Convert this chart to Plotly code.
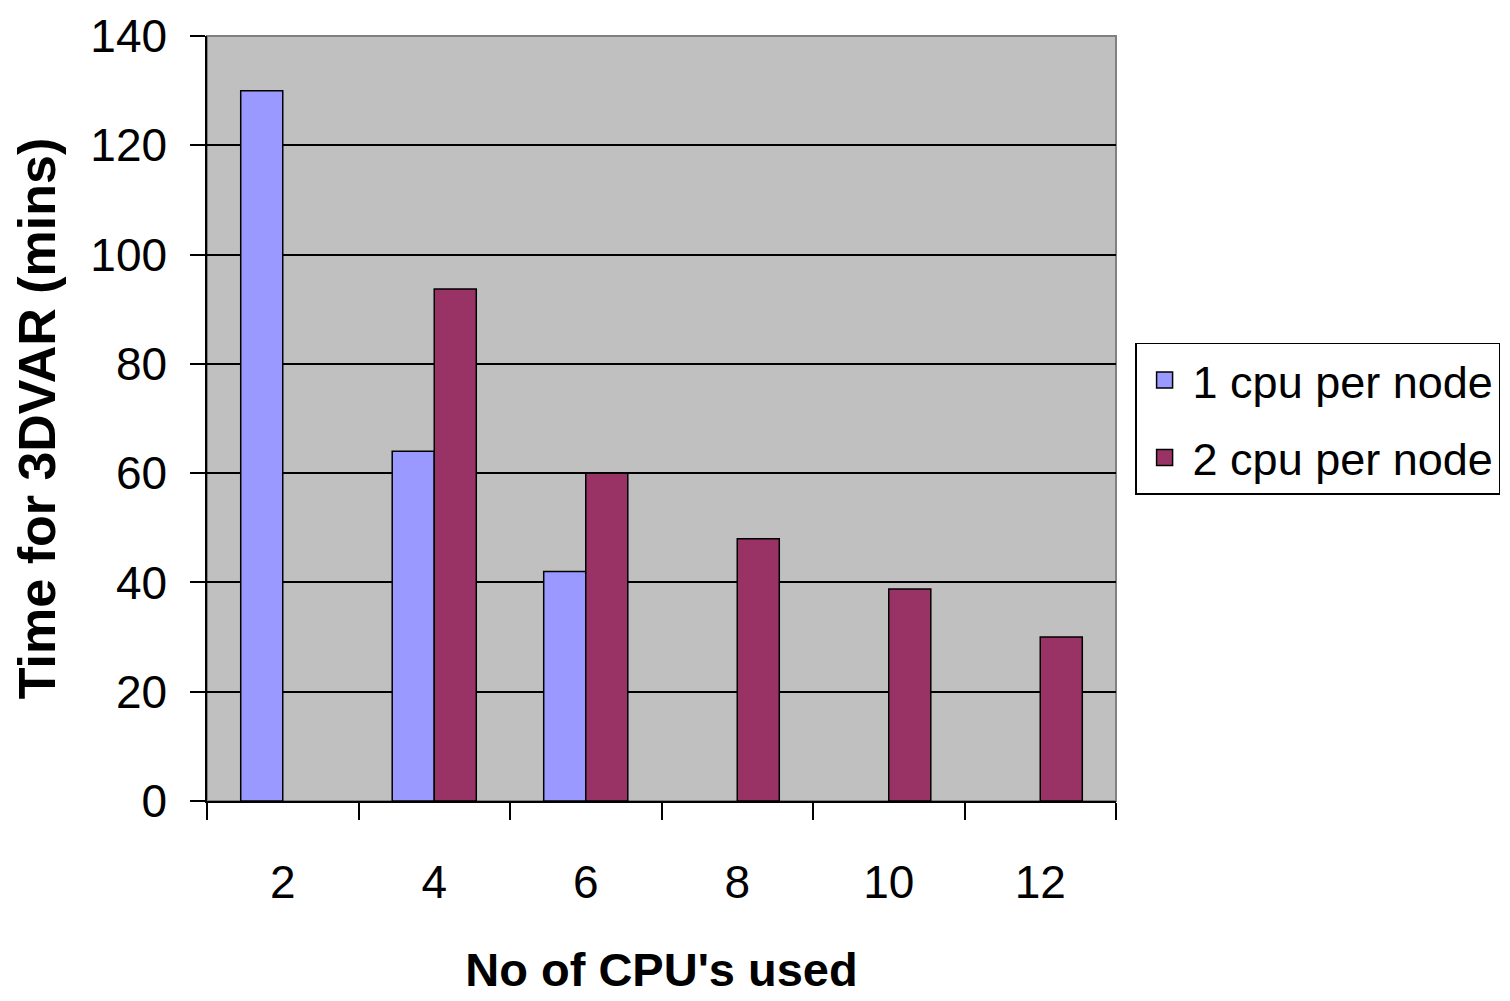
import plotly.graph_objects as go

categories = ["2", "4", "6", "8", "10", "12"]
one_cpu = [130, 64, 42, None, None, None]
two_cpu = [None, 93.7, 60, 48, 38.8, 30]
y_ticks = [0, 20, 40, 60, 80, 100, 120, 140]

series_names = ["1 cpu per node", "2 cpu per node"]
colors = ["#9999FF", "#993366"]

TICKFONT = dict(family="Liberation Sans, Arial", size=46, color="black")
XTITLEFONT = dict(family="Liberation Sans, Arial", size=47, color="black", weight="bold")
YTITLEFONT = dict(family="Liberation Sans, Arial", size=52, color="black", weight="bold")

fig = go.Figure()
for i, (name, vals, col) in enumerate(zip(series_names, [one_cpu, two_cpu], colors)):
    fig.add_trace(go.Bar(
        x=categories, y=vals, name=name,
        marker=dict(color=col, line=dict(color="black", width=1.5)),
        showlegend=False,
    ))
    fig.add_trace(go.Scatter(
        x=[None], y=[None], mode="markers", name=name, legendgroup=f"g{i}",
        marker=dict(symbol="square", size=30, color=col, line=dict(color="black", width=1.5)),
    ))

fig.update_layout(
    width=1510, height=1001,
    margin=dict(l=199, r=402, t=28, b=208, autoexpand=False),
    paper_bgcolor="white",
    plot_bgcolor="#C0C0C0",
    barmode="group",
    bargap=0.445,
    bargroupgap=0,
    showlegend=True,
    legend=dict(
        x=1.021, y=0.599, xanchor="left", yanchor="top",
        bgcolor="white", bordercolor="black", borderwidth=1.5,
        font=dict(family="Liberation Sans, Arial", size=45, color="black"),
        itemsizing="trace", tracegroupgap=16, itemwidth=46,
    ),
    xaxis=dict(
        type="category", automargin=False,
        categoryorder="array", categoryarray=categories,
        tickson="boundaries", ticks="outside", ticklen=17, tickwidth=1.5, tickcolor="black",
        showline=True, linecolor="black", linewidth=1.5,
        showgrid=False, zeroline=False,
        tickfont=TICKFONT, ticklabelstandoff=40,
        title=dict(text="No of CPU's used", font=XTITLEFONT, standoff=46),
    ),
    yaxis=dict(
        range=[0, 140], tickvals=y_ticks, ticktext=[str(v) for v in y_ticks],
        automargin=False,
        ticks="outside", ticklen=15, tickwidth=1.5, tickcolor="black",
        showline=True, linecolor="black", linewidth=1.5,
        showgrid=True, gridcolor="black", gridwidth=1.5,
        zeroline=False,
        tickfont=TICKFONT, ticklabelstandoff=14,
        title=dict(text="Time for 3DVAR (mins)", font=YTITLEFONT, standoff=20),
    ),
)

fig.add_shape(type="rect", xref="paper", yref="paper", x0=0, x1=1, y0=0, y1=1,
              line=dict(color="#808080", width=2), layer="below")

fig.write_html("out.html")
